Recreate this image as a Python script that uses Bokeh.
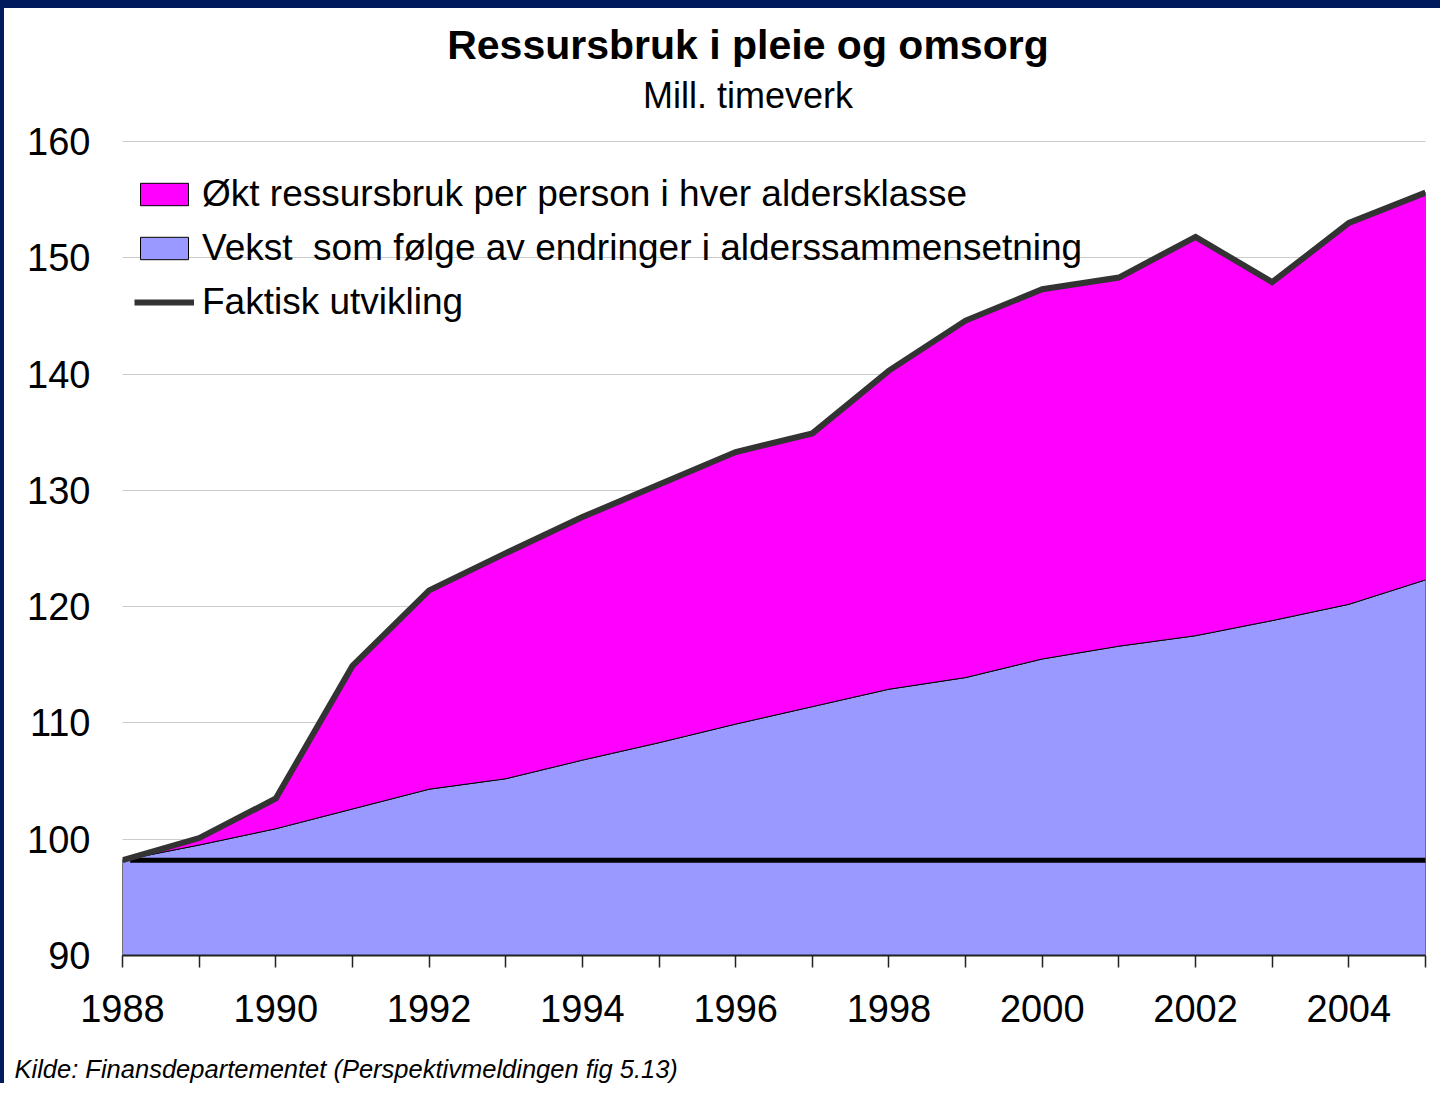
from bokeh.plotting import figure
from bokeh.models import Range1d, Legend, LegendItem, FixedTicker, Title, Label
from bokeh.embed import file_html
from bokeh.resources import INLINE

# ---- data ----
years = list(range(1988, 2006))
total = [98.2, 100.1, 103.5, 114.9, 121.4, 124.6, 127.7, 130.5, 133.3, 134.9,
         140.3, 144.6, 147.3, 148.3, 151.8, 147.9, 153.0, 155.6]
demographic = [98.2, 99.5, 100.9, 102.6, 104.3, 105.2, 106.8, 108.3, 109.9, 111.4,
               112.9, 113.9, 115.5, 116.6, 117.5, 118.8, 120.2, 122.3]
base_level = 98.2
y_ticks = [90, 100, 110, 120, 130, 140, 150, 160]
grid_ticks = [100, 110, 120, 130, 140, 150, 160]
x_labels = {y: (str(y) if y % 2 == 0 else "") for y in years}

label_magenta = "Økt ressursbruk per person i hver aldersklasse"
label_blue = "Vekst  som følge av endringer i alderssammensetning"
label_line = "Faktisk utvikling"
title_text = "Ressursbruk i pleie og omsorg"
subtitle_text = "Mill. timeverk"
source_text = "Kilde: Finansdepartementet (Perspektivmeldingen fig 5.13)"

FONT = "Liberation Sans"

# layout: plot area spans from the top of the canvas down to the x axis;
# value axis 90..160 occupies the lower 814 px of it, the headroom holds the titles
AXIS_PX = 814.0
FRAME_PX = 955.0
y_top = y_ticks[0] + (y_ticks[-1] - y_ticks[0]) * FRAME_PX / AXIS_PX

p = figure(width=1440, height=1083, output_backend="svg", toolbar_location=None,
           x_range=Range1d(years[0], years[-1]), y_range=Range1d(y_ticks[0], y_top),
           min_border_left=122, min_border_right=15, min_border_top=0, min_border_bottom=128)
p.outline_line_color = None
p.background_fill_color = None
p.border_fill_color = None
# dark navy slide frame along the top and left edges
p.styles = {"box-shadow": "inset 4px 8px 0px 0px #001A5E", "background-color": "white"}

# areas
y_floor = y_ticks[0]
blue_xs = years + years[::-1]
blue_ys = demographic + [y_floor] * len(years)
mag_xs = years + years[::-1]
mag_ys = total + demographic[::-1]

r_blue = p.patch(blue_xs, blue_ys, fill_color="#9999FF", line_color="black", line_width=1)
r_mag = p.patch(mag_xs, mag_ys, fill_color="#FF00FF", line_color="black", line_width=1)
p.line([years[0] + 0.1, years[-1] + 0.1], [base_level, base_level], line_color="black", line_width=5)
r_line = p.line(years, total, line_color="#333333", line_width=6, line_join="miter")

# grid
p.xgrid.visible = False
p.ygrid.ticker = FixedTicker(ticks=grid_ticks)
p.ygrid.grid_line_color = "#999999"
p.ygrid.grid_line_dash = "1 1"
p.ygrid.grid_line_width = 1

# axes
p.yaxis.ticker = FixedTicker(ticks=y_ticks)
p.yaxis.axis_line_color = None
p.yaxis.major_tick_line_color = None
p.yaxis.minor_tick_line_color = None
p.yaxis.major_label_text_font = FONT
p.yaxis.major_label_text_font_size = "38px"
p.yaxis.major_label_text_color = "black"
p.yaxis.major_label_standoff = 26

p.xaxis.ticker = FixedTicker(ticks=years)
p.xaxis.major_label_overrides = x_labels
p.xaxis.axis_line_color = "#222222"
p.xaxis.axis_line_width = 2
p.xaxis.major_tick_line_color = "#222222"
p.xaxis.major_tick_line_width = 1.5
p.xaxis.major_tick_out = 12
p.xaxis.major_tick_in = 0
p.xaxis.minor_tick_line_color = None
p.xaxis.major_label_text_font = FONT
p.xaxis.major_label_text_font_size = "38px"
p.xaxis.major_label_text_color = "black"
p.xaxis.major_label_standoff = 27

# legend
legend = Legend(items=[LegendItem(label=label_magenta, renderers=[r_mag]),
                       LegendItem(label=label_blue, renderers=[r_blue]),
                       LegendItem(label=label_line, renderers=[r_line])],
                location=(12, 632), padding=0, margin=0, spacing=12,
                label_height=42, glyph_height=28, glyph_width=60, label_standoff=8,
                label_text_font=FONT, label_text_font_size="37px", label_text_color="black",
                border_line_color=None, background_fill_alpha=0)
p.add_layout(legend)

# titles (inside the headroom of the plot area)
title_x = 1996.16
p.add_layout(Label(x=title_x, y=168.26, text=title_text, text_align="center", text_baseline="middle",
                   text_font=FONT, text_font_size="41px", text_font_style="bold", text_color="black"))
p.add_layout(Label(x=title_x, y=163.95, text=subtitle_text, text_align="center", text_baseline="middle",
                   text_font=FONT, text_font_size="36px", text_color="black"))

# source note below the axis
p.add_layout(Title(text="\n" + source_text, align="left", offset=-108, standoff=0,
                   text_font=FONT, text_font_size="25.5px", text_font_style="italic",
                   text_color="black"), "below")

open("out.html", "w").write(file_html(p, INLINE))
